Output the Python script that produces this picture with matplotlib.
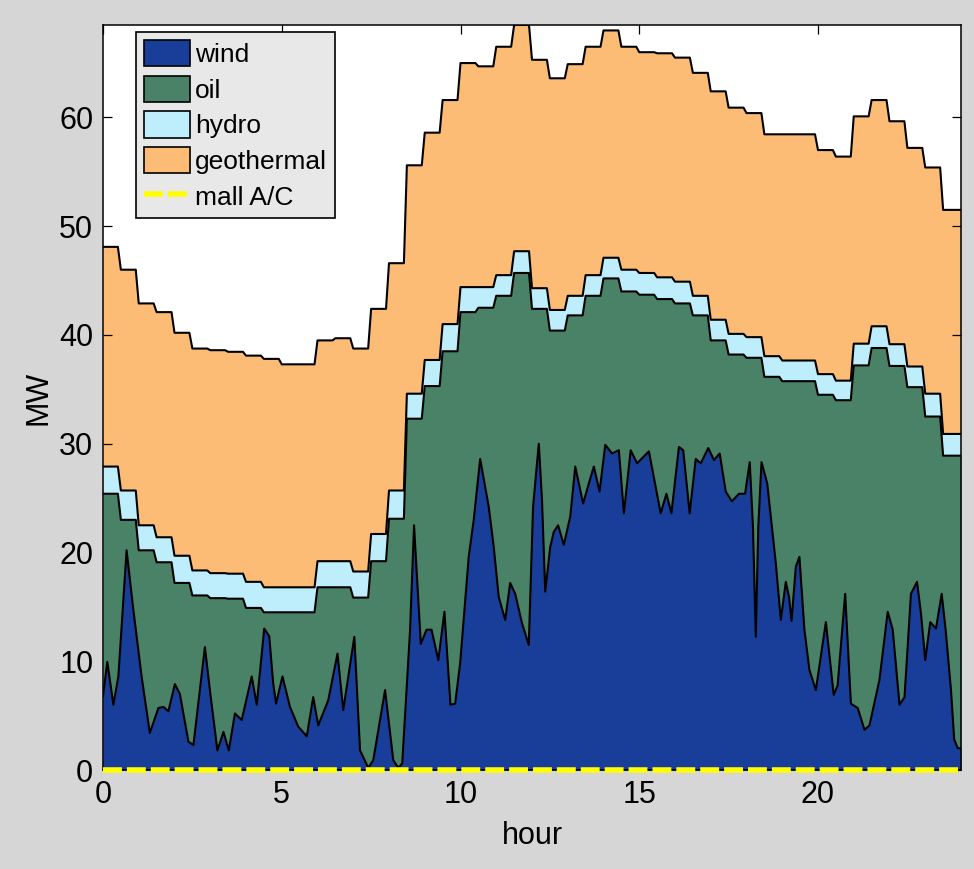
import numpy as np
import matplotlib
matplotlib.use("Agg")
import matplotlib.pyplot as plt
from matplotlib.patches import Patch
from matplotlib.lines import Line2D

plt.rcParams['font.family'] = ['Liberation Sans', 'DejaVu Sans']

# ---- data: half-hour blocks (48 blocks, 0:00 .. 23:30) ----
demand = [48.1, 46.0, 42.9, 42.1, 40.2, 38.75, 38.6, 38.45, 38.1, 37.8, 37.3, 37.3,
          39.5, 39.7, 38.75, 42.4, 46.6, 55.6, 58.6, 61.6, 65.0, 64.7, 66.5, 68.5,
          65.3, 63.6, 64.9, 66.5, 68.0, 66.5, 66.0, 65.9, 65.5, 64.1, 62.4, 60.9,
          60.4, 58.45, 58.45, 58.45, 57.0, 56.4, 60.1, 61.6, 59.65, 57.2, 55.4, 51.5]
geothermal = [20.2, 20.3, 20.4, 20.7, 20.5, 20.4, 20.5, 20.4, 20.8, 21.0, 20.5, 20.5,
              20.3, 20.5, 20.5, 20.7, 20.9, 21.0, 20.9, 20.6, 20.6, 20.3, 21.0, 20.8,
              21.0, 21.3, 21.3, 21.0, 20.9, 20.5, 20.3, 20.6, 20.6, 20.5, 21.0, 20.8,
              20.6, 20.4, 20.8, 20.8, 20.6, 20.6, 20.9, 20.8, 20.5, 20.1, 20.8, 20.6]
hydro = [2.5, 2.7, 2.3, 2.3, 2.5, 2.3, 2.3, 2.3, 2.4, 2.3, 2.3, 2.3,
         2.4, 2.4, 2.4, 2.5, 2.6, 2.3, 2.4, 2.5, 2.3, 1.9, 1.9, 2.0,
         1.9, 1.9, 1.8, 1.9, 1.9, 2.0, 2.0, 2.0, 2.0, 1.8, 1.9, 1.9,
         1.9, 1.9, 1.9, 1.9, 1.9, 1.8, 2.0, 2.0, 2.0, 1.9, 2.1, 2.0]

# ---- wind (finer time resolution) ----
wind_hours = [0.00, 0.12, 0.29, 0.43, 0.66, 0.85, 1.08, 1.31, 1.55, 1.69, 1.83, 2.01,
              2.15, 2.39, 2.53, 2.85, 2.99, 3.20, 3.37, 3.52, 3.69, 3.88, 4.16, 4.30,
              4.51, 4.65, 4.76, 4.84, 5.02, 5.23, 5.46, 5.70, 5.88, 6.02, 6.30, 6.56,
              6.72, 7.03, 7.19, 7.42, 7.56, 7.89, 8.12, 8.26, 8.37, 8.59, 8.70, 8.89,
              9.05, 9.19, 9.38, 9.55, 9.63, 9.72, 9.85, 9.99, 10.23, 10.37, 10.55, 10.79,
              10.93, 11.07, 11.25, 11.39, 11.53, 11.72, 11.91, 12.03, 12.19, 12.28, 12.37, 12.51,
              12.61, 12.73, 12.89, 13.07, 13.21, 13.43, 13.59, 13.73, 13.89, 14.05, 14.24, 14.43,
              14.57, 14.76, 14.94, 15.27, 15.60, 15.76, 15.90, 16.11, 16.23, 16.41, 16.58, 16.72,
              16.93, 17.09, 17.25, 17.42, 17.59, 17.79, 17.96, 18.09, 18.18, 18.26, 18.33, 18.42,
              18.58, 18.72, 18.82, 18.96, 19.10, 19.19, 19.26, 19.38, 19.48, 19.62, 19.76, 19.94,
              20.22, 20.44, 20.55, 20.76, 20.92, 21.11, 21.30, 21.44, 21.72, 21.95, 22.09, 22.28,
              22.42, 22.60, 22.77, 22.88, 23.00, 23.14, 23.30, 23.46, 23.57, 23.72, 23.81, 23.91,
              24.00]
wind = [6.8, 9.95, 6.0, 8.6, 20.2, 14.7, 8.6, 3.4, 5.7, 5.8, 5.4, 7.9,
        7.0, 2.6, 2.3, 11.3, 7.35, 1.8, 3.5, 1.8, 5.2, 4.6, 8.6, 6.0,
        13.0, 12.3, 8.0, 6.1, 8.6, 5.8, 4.0, 3.1, 6.7, 4.1, 6.4, 10.7,
        5.5, 12.25, 1.8, 0.2, 0.9, 7.35, 0.9, 0.2, 0.6, 12.9, 22.5, 11.6,
        12.9, 12.9, 10.1, 14.55, 10.5, 6.0, 6.1, 9.8, 19.6, 23.0, 28.6, 24.2,
        20.5, 15.9, 13.8, 17.2, 16.2, 13.5, 11.5, 24.2, 30.0, 24.8, 16.4, 20.5,
        21.9, 22.5, 20.7, 23.3, 27.9, 24.5, 26.35, 27.9, 25.6, 29.9, 29.1, 29.4,
        23.6, 29.4, 28.2, 29.3, 23.6, 25.4, 23.6, 29.7, 29.4, 23.6, 28.6, 28.2,
        29.6, 28.5, 29.1, 25.6, 24.7, 25.4, 25.4, 28.3, 22.4, 12.25, 22.4, 28.3,
        26.35, 22.1, 19.0, 13.8, 17.3, 15.9, 13.7, 18.7, 19.6, 12.9, 9.2, 7.35,
        13.6, 6.9, 7.8, 16.2, 6.1, 5.7, 3.7, 4.1, 8.3, 14.55, 12.9, 6.0,
        6.7, 16.2, 17.3, 14.4, 10.1, 13.6, 13.0, 16.2, 12.9, 7.35, 2.8, 2.0,
        2.0]

mall_hours = [0, 1, 2, 3, 4, 5, 6, 7, 8, 9, 10, 11, 12, 13, 14, 15, 16, 17, 18, 19, 20, 21, 22, 23, 24]
mall_ac = [0, 0, 0, 0, 0, 0, 0, 0, 0, 0, 0, 0, 0, 0, 0, 0, 0, 0, 0, 0, 0, 0, 0, 0, 0]

series_labels = ['wind', 'oil', 'hydro', 'geothermal', 'mall A/C']

# ---- colours ----
c_wind = '#193e9a'
c_oil = '#4a8268'
c_hydro = '#beedfc'
c_geo = '#fcbc76'
bg = '#d6d6d6'

# stepped (half-hourly) curves: each block held for 25 min, then 5-min ramp
block_start = np.arange(len(demand)) * 0.5
step_x = np.column_stack([block_start, block_start + 25 / 60]).ravel()
step_x[-1] = 24.0


def steps(v):
    return np.repeat(np.asarray(v, float), 2)


total = steps(demand)
hydro_top = total - steps(geothermal)
oil_top = hydro_top - steps(hydro)

fig = plt.figure(figsize=(9.74, 8.69), dpi=100, facecolor=bg)
ax = fig.add_axes([103 / 974, 1 - 770 / 869, (961 - 103) / 974, (770 - 25) / 869])
ax.set_facecolor('white')

ax.fill_between(step_x, 0, total, color=c_geo, lw=0, zorder=1)
ax.fill_between(step_x, 0, hydro_top, color=c_hydro, lw=0, zorder=2)
ax.fill_between(step_x, 0, oil_top, color=c_oil, lw=0, zorder=3)
ax.fill_between(wind_hours, 0, wind, color=c_wind, lw=0, zorder=4)

lw_edge = 1.5
ax.plot(step_x, total, color='k', lw=lw_edge, zorder=5)
ax.plot(step_x, hydro_top, color='k', lw=lw_edge, zorder=5)
ax.plot(step_x, oil_top, color='k', lw=lw_edge, zorder=5)
ax.plot(wind_hours, wind, color='k', lw=lw_edge, zorder=5)

mall_style = dict(color='#ffff00', lw=4.0, linestyle=(0, (3.4, 0.9)))
ax.plot(mall_hours, mall_ac, zorder=12, clip_on=False, **mall_style)

ax.set_xlim(0, 24)
ax.set_ylim(0, max(demand))
ax.set_xticks([0, 5, 10, 15, 20])
ax.set_yticks([0, 10, 20, 30, 40, 50, 60])
ax.tick_params(direction='in', length=6.5, width=0.9, top=True, right=True,
               labelsize=22, pad=7)
for s in ax.spines.values():
    s.set_linewidth(1.1)
    s.set_zorder(11)

ax.set_xlabel('hour', fontsize=22, labelpad=8)
ax.set_ylabel('MW', fontsize=22, labelpad=4)

handles = [Patch(facecolor=c_wind, edgecolor='k', lw=1.2),
           Patch(facecolor=c_oil, edgecolor='k', lw=1.2),
           Patch(facecolor=c_hydro, edgecolor='k', lw=1.2),
           Patch(facecolor=c_geo, edgecolor='k', lw=1.2),
           Line2D([], [], **mall_style)]
leg = ax.legend(handles, series_labels, loc='upper left',
                bbox_to_anchor=((136 - 103) / 858, (770 - 32) / 745),
                borderaxespad=0, fontsize=19, fancybox=False, framealpha=1,
                facecolor='#e8e8e8', edgecolor='k', handlelength=1.75,
                handleheight=1.15, handletextpad=0.2, labelspacing=0.33,
                borderpad=0.3)
leg.get_frame().set_linewidth(1.2)
leg.set_zorder(20)

fig.savefig('out.png', dpi=100, facecolor=bg)
